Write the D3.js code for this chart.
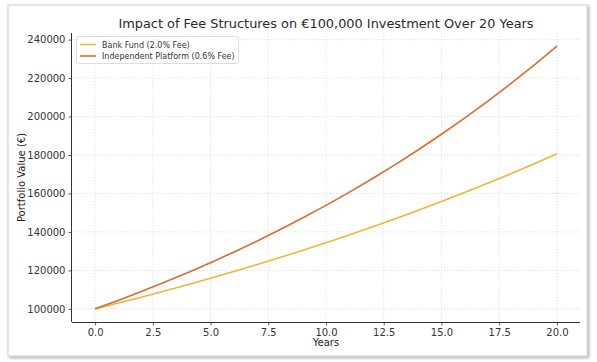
<!DOCTYPE html>
<html><head><meta charset="utf-8">
<script src="https://cdn.jsdelivr.net/npm/d3@7"></script>
<style>
html,body{margin:0;padding:0;background:#fff;}
svg{display:block;font-family:"DejaVu Sans",sans-serif;}
</style></head>
<body><svg id="c" width="597" height="362"></svg>
<script>
const years = [0,1,2,3,4,5,6,7,8,9,10,11,12,13,14,15,16,17,18,19,20];
const bankFund = [100000,103000,106090,109273,112551,115927,119405,122987,126677,130477,134392,138423,142576,146853,151259,155797,160471,165285,170243,175351,180611];
const independent = [100000,104400,108994,113789,118796,124023,129480,135177,141125,147334,153817,160585,167651,175027,182729,190769,199163,207926,217074,226626,236597];
const seriesNames = ["Bank Fund (2.0% Fee)","Independent Platform (0.6% Fee)"];
const seriesColors = ["#f2b531","#e0692e"];
const xTicks = [0,2.5,5,7.5,10,12.5,15,17.5,20];
const yTicks = [100000,120000,140000,160000,180000,200000,220000,240000];
const title = "Impact of Fee Structures on €100,000 Investment Over 20 Years";

const svg = d3.select("#c");
const defs = svg.append("defs");
const f = defs.append("filter").attr("id","sh").attr("x","-5%").attr("y","-5%").attr("width","110%").attr("height","110%");
f.append("feDropShadow").attr("dx",1.5).attr("dy",1.5).attr("stdDeviation",1.5).attr("flood-color","#000").attr("flood-opacity",0.35);
svg.append("rect").attr("x",8).attr("y",5).attr("width",579).attr("height",351)
  .attr("fill","#fff").attr("stroke","#d0d0d0").attr("stroke-width",1).attr("filter","url(#sh)");

const L=72, R=580, T=33, B=322;
const x = d3.scaleLinear().domain([-1,21]).range([L,R]);
const y = d3.scaleLinear().domain([93170,243430]).range([B,T]);

const g = svg.append("g");
g.selectAll(".gx").data(xTicks).join("line").attr("x1",d=>x(d)).attr("x2",d=>x(d)).attr("y1",T).attr("y2",B)
  .attr("stroke","#dcdcdc").attr("stroke-width",0.8).attr("stroke-dasharray","1.5,1.5");
g.selectAll(".gy").data(yTicks).join("line").attr("y1",d=>y(d)).attr("y2",d=>y(d)).attr("x1",L).attr("x2",R)
  .attr("stroke","#dcdcdc").attr("stroke-width",0.8).attr("stroke-dasharray","1.5,1.5");

const xa = svg.append("g").attr("transform",`translate(0,${B})`)
  .call(d3.axisBottom(x).tickValues(xTicks).tickFormat(d3.format(".1f")).tickSize(3.5).tickPadding(3));
const ya = svg.append("g").attr("transform",`translate(${L},0)`)
  .call(d3.axisLeft(y).tickValues(yTicks).tickFormat(d=>String(d)).tickSize(3.5).tickPadding(3));
[xa,ya].forEach(a=>{
  a.select(".domain").attr("stroke","#333").attr("stroke-width",1);
  a.selectAll(".tick line").attr("stroke","#333").attr("stroke-width",0.8);
  a.selectAll("text").attr("fill","#333").attr("font-size",10).attr("font-family","DejaVu Sans");
});
xa.select(".domain").attr("d",`M${L},0.5H${R}`);
ya.select(".domain").attr("d",`M-0.5,${B}V${T}`);

const line = d3.line().x((d,i)=>x(years[i])).y(d=>y(d));
[bankFund,independent].forEach((s,i)=>{
  svg.append("path").attr("d",line(s)).attr("fill","none").attr("stroke",seriesColors[i]).attr("stroke-width",1.6);
});

svg.append("text").attr("x",(L+R)/2).attr("y",28).attr("text-anchor","middle").attr("font-size",12.9).attr("fill","#2a2a2a").text(title);
svg.append("text").attr("x",(L+R)/2).attr("y",346).attr("text-anchor","middle").attr("font-size",10).attr("fill","#222").text("Years");
svg.append("text").attr("transform",`translate(25,${(T+B)/2}) rotate(-90)`).attr("text-anchor","middle").attr("font-size",10).attr("fill","#222").text("Portfolio Value (€)");

const lg = svg.append("g");
lg.append("rect").attr("x",76.5).attr("y",36.5).attr("width",162).attr("height",27).attr("rx",2)
  .attr("fill","#fff").attr("fill-opacity",0.85).attr("stroke","#ddd");
seriesNames.forEach((n,i)=>{
  const yy = 44.5 + i*11.5;
  lg.append("line").attr("x1",80).attr("x2",96).attr("y1",yy).attr("y2",yy).attr("stroke",seriesColors[i]).attr("stroke-width",1.6);
  lg.append("text").attr("x",102).attr("y",yy+3).attr("font-size",8).attr("fill","#333").text(n);
});
</script></body></html>
